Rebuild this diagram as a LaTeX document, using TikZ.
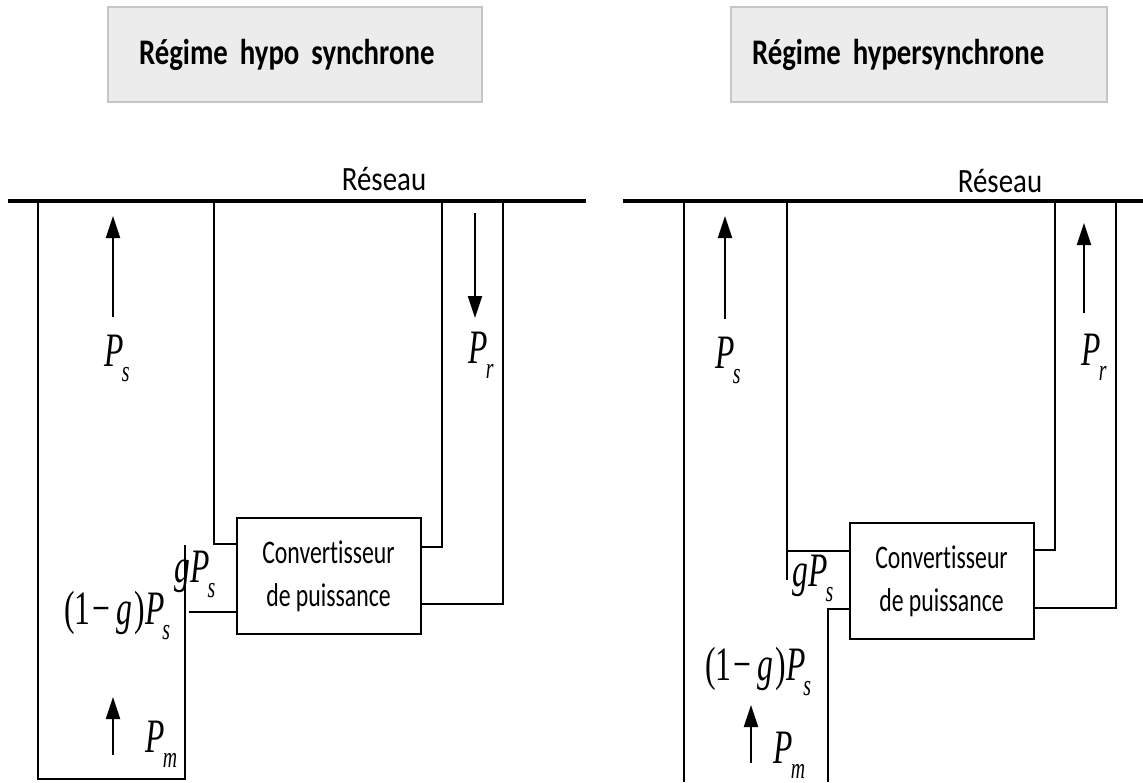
\documentclass[tikz,border=0pt]{standalone}
\usepackage{fontspec}
\setmainfont{Carlito}
\newfontfamily\titlefont[FakeStretch=0.8]{Carlito}
\newfontfamily\netfont[FakeStretch=0.85]{Carlito}
\newfontfamily\convfont[FakeStretch=0.72, Ligatures=CommonOff]{Carlito}
\newfontfamily\eqfont[FakeStretch=0.66]{Liberation Serif}
\newfontfamily\eqit[FakeStretch=0.66]{Liberation Serif Italic}
\usetikzlibrary{arrows.meta, positioning}

\DeclareRobustCommand{\tightspace}{\spaceskip=3pt plus 1pt minus 0.5pt\relax}
\newcommand{\pwr}[2]{{\eqit #1}\kern-1pt\raisebox{-7.5pt}{\fontsize{15}{15}\selectfont\eqit #2}}

\begin{document}
\begin{tikzpicture}[x=0.5pt, y=-0.5pt,
  titlebox/.style={draw=gray!45, line width=1pt, fill=gray!15, minimum height=47.5pt, align=left, font=\titlefont\fontsize{18}{18}\selectfont\bfseries\tightspace},
  conv/.style={draw, line width=1pt, minimum width=92pt, minimum height=58pt, inner sep=0pt, align=center, font=\convfont\fontsize{16.5}{21.5}\selectfont},
  wire/.style={line width=1pt},
  bus/.style={line width=1.6pt},
  flow/.style={line width=1pt, -{Triangle[length=11pt, width=7pt]}},
  pw/.style={inner sep=0pt, anchor=base west, font=\eqfont\fontsize{24}{24}\selectfont},
  net/.style={anchor=base, font=\netfont\fontsize{17}{17}\selectfont},
]
  \useasboundingbox (0,0) rectangle (1143,782);

  % hypo synchrone
  \node[titlebox, inner xsep=15.5pt, text width=156pt] (titreHypo) at (295,54.5) {Régime hypo synchrone};
  \coordinate (reseauHypoW) at (8,201);
  \coordinate (reseauHypoE) at (586,201);
  \draw[bus] (reseauHypoW) -- (reseauHypoE);
  \node[net] (netHypo) at (384,190) {Réseau};

  \node[conv] (convHypo) at (328.5,576) {Convertisseur\\de puissance};

  \coordinate (statHypo) at (38,201);
  \coordinate (rotHypo) at (214,201);
  \coordinate (rA) at (442,201);
  \coordinate (rB) at (503,201);
  \coordinate (shaftHypo) at (185,545);
  \coordinate (gHypo) at (189,612);

  \draw[wire] (statHypo) -- ++(0,578) -| (shaftHypo);
  \draw[wire] (rotHypo) |- ([yshift=-13.5pt]convHypo.north west);
  \draw[wire] (rA) |- ([yshift=-15pt]convHypo.north east);
  \draw[wire] (rB) |- ([yshift=-43.5pt]convHypo.north east);
  \draw[wire] (gHypo) -- (gHypo -| convHypo.west);

  \draw[flow] (113,317) -- (113,216);
  \draw[flow] (475,213) -- (475,318);
  \draw[flow] (113,755) -- (113,697);
  \node[pw] (psHypo) at (104,366) {\pwr{P}{s}};
  \node[pw] (prHypo) at (468,363) {\pwr{P}{r}};
  \node[pw] (gpsHypo) at (174,582) {{\eqit g}\pwr{P}{s}};
  \node[pw] (restHypo) at (64,624) {(1\kern1pt−\kern3pt{\eqit g}\kern1pt)\pwr{P}{s}};
  \node[pw] (pmHypo) at (145,752) {\pwr{P}{m}};

  % hypersynchrone
  \node[titlebox, inner xsep=10.5pt, text width=167pt] (titreHyper) at (919,54.5) {Régime hypersynchrone};
  \coordinate (reseauHyperW) at (623,201);
  \coordinate (reseauHyperE) at (1143,201);
  \draw[bus] (reseauHyperW) -- (reseauHyperE);
  \node[net] (netHyper) at (1000,192) {Réseau};

  \node[conv] (convHyper) at (941.5,581) {Convertisseur\\de puissance};

  \coordinate (statHyper) at (684,201);
  \coordinate (statHyperB) at (684,782);
  \coordinate (rotHyper) at (787,201);
  \coordinate (rC) at (1055,201);
  \coordinate (rD) at (1116,201);
  \coordinate (gHyper) at (787,580);
  \coordinate (shaftHyper) at (828,782);

  \draw[wire] (statHyper) -- (statHyperB);
  \draw[wire] ([yshift=-14.5pt]convHyper.north west) -| (rotHyper);
  \draw[wire] (rotHyper) -- (gHyper);
  \draw[wire] (rC) |- ([yshift=-14pt]convHyper.north east);
  \draw[wire] (rD) |- ([yshift=-43pt]convHyper.north east);
  \draw[wire] ([yshift=-43.5pt]convHyper.north west) -| (shaftHyper);

  \draw[flow] (725,319) -- (725,216);
  \draw[flow] (1084,313) -- (1084,223);
  \draw[flow] (751,763) -- (751,705);
  \node[pw] (psHyper) at (715,368) {\pwr{P}{s}};
  \node[pw] (prHyper) at (1081,365) {\pwr{P}{r}};
  \node[pw] (gpsHyper) at (792,586) {{\eqit g}\pwr{P}{s}};
  \node[pw] (restHyper) at (705,680) {(1\kern1pt−\kern3pt{\eqit g}\kern1pt)\pwr{P}{s}};
  \node[pw] (pmHyper) at (773,763) {\pwr{P}{m}};
\end{tikzpicture}
\end{document}
